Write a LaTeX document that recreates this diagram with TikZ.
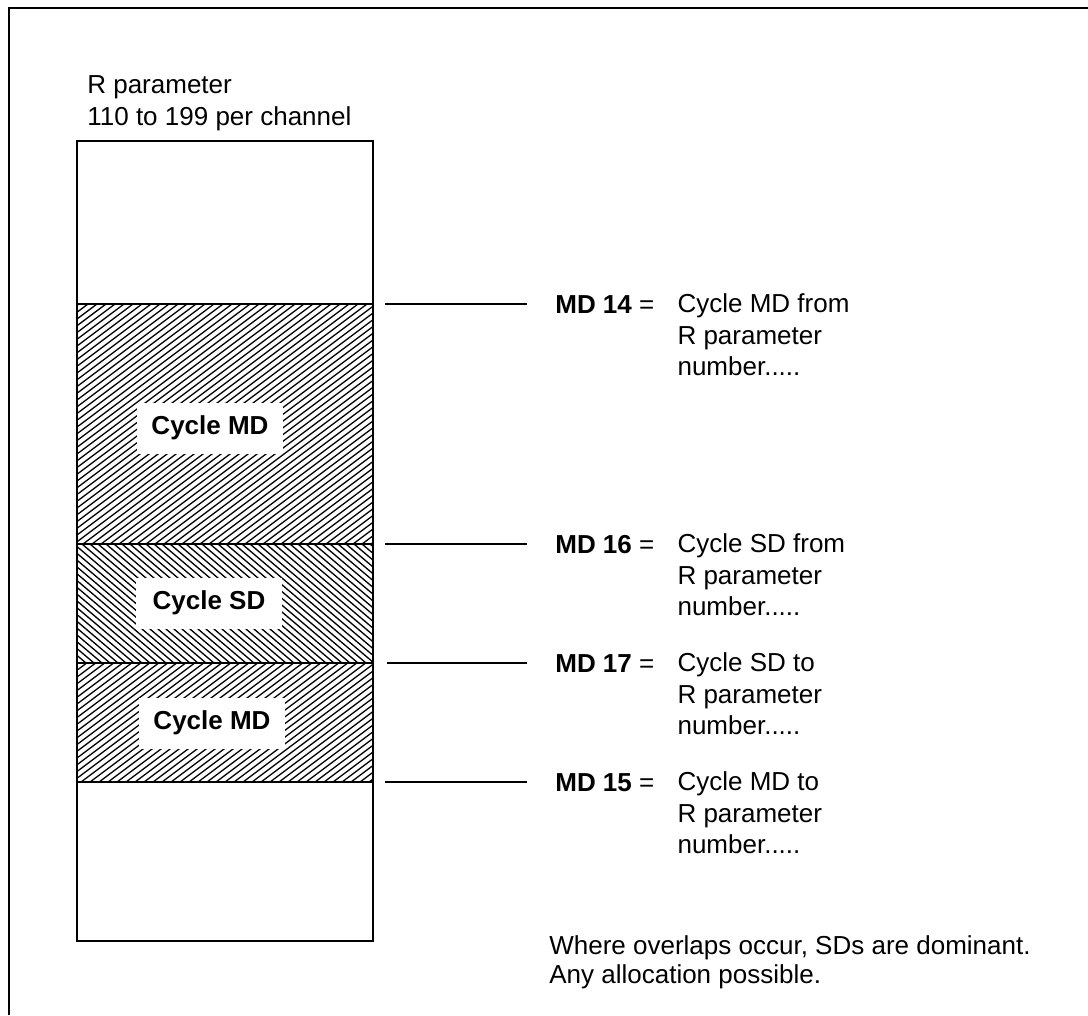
\documentclass[tikz,border=0pt]{standalone}
\usepackage{fontspec}
\setmainfont{Liberation Sans}
\usetikzlibrary{positioning}

\tikzset{
  hatch/.style={line width=0.75pt},
  wall/.style={line width=0.8pt},
  lead/.style={line width=0.8pt},
  cyclelabel/.style={fill=white, font=\fontsize{14.8}{18}\selectfont\bfseries, minimum width=2.92cm, minimum height=1.02cm, inner sep=0pt},
  mdlabel/.style={anchor=west, inner sep=0pt},
  desc/.style={align=left, inner sep=0pt}
}

\begin{document}
\begin{tikzpicture}[x=0.02cm, y=-0.02cm, font=\fontsize{14.8}{18}\selectfont]
  \useasboundingbox (0,0) rectangle (1088,1015);
  \draw[line width=1pt] (9,1015) -- (9,8) -- (1088,8);

  % hatched bands
  \begin{scope}
    \clip (77,304) rectangle (373,544);
    \foreach \s in {-250,-241,...,380} \draw[hatch] (\s,544) -- ++(320,-240);
  \end{scope}
  \begin{scope}
    \clip (77,544) rectangle (373,663);
    \foreach \s in {-70,-62,...,380} \draw[hatch] (\s,544) -- ++(140,119);
  \end{scope}
  \begin{scope}
    \clip (77,663) rectangle (373,782);
    \foreach \s in {-90,-81,...,380} \draw[hatch] (\s,782) -- ++(160,-120);
  \end{scope}

  % the R parameter column
  \draw[wall] (77,141) rectangle (373,941);
  \foreach \y in {304,544,663,782} \draw[wall] (77,\y) -- (373,\y);

  \node[desc, anchor=base west] (title) at (87,125) {R parameter\\110 to 199 per channel};

  \node[cyclelabel] (cmd1) at (210,428) {Cycle MD};
  \node[cyclelabel] (csd) at (209,603) {Cycle SD};
  \node[cyclelabel] (cmd2) at (212,723) {Cycle MD};

  % machine data
  \node[mdlabel] (md14) at (555,305) {\textbf{MD 14} =};
  \node[mdlabel] (md16) at (555,545) {\textbf{MD 16} =};
  \node[mdlabel] (md17) at (555,664) {\textbf{MD 17} =};
  \node[mdlabel] (md15) at (555,783) {\textbf{MD 15} =};

  \node[desc, below right=1.24cm and 0.45cm of md14.base east, anchor=base west] (d14) {Cycle MD from\\R parameter\\number.....};
  \node[desc, below right=1.24cm and 0.45cm of md16.base east, anchor=base west] (d16) {Cycle SD from\\R parameter\\number.....};
  \node[desc, below right=1.24cm and 0.45cm of md17.base east, anchor=base west] (d17) {Cycle SD to\\R parameter\\number.....};
  \node[desc, below right=1.24cm and 0.45cm of md15.base east, anchor=base west] (d15) {Cycle MD to\\R parameter\\number.....};

  \coordinate (b14) at (385,304);
  \coordinate (b16) at (385,544);
  \coordinate (b17) at (387,663);
  \coordinate (b15) at (385,782);
  \draw[lead] (b14) -- ([xshift=-0.56cm]md14.west |- b14);
  \draw[lead] (b16) -- ([xshift=-0.56cm]md16.west |- b16);
  \draw[lead] (b17) -- ([xshift=-0.56cm]md17.west |- b17);
  \draw[lead] (b15) -- ([xshift=-0.56cm]md15.west |- b15);

  \node[desc, anchor=base west, font=\fontsize{14.8}{16.5}\selectfont] (note) at (549,983) {Where overlaps occur, SDs are dominant.\\Any allocation possible.};
\end{tikzpicture}
\end{document}
